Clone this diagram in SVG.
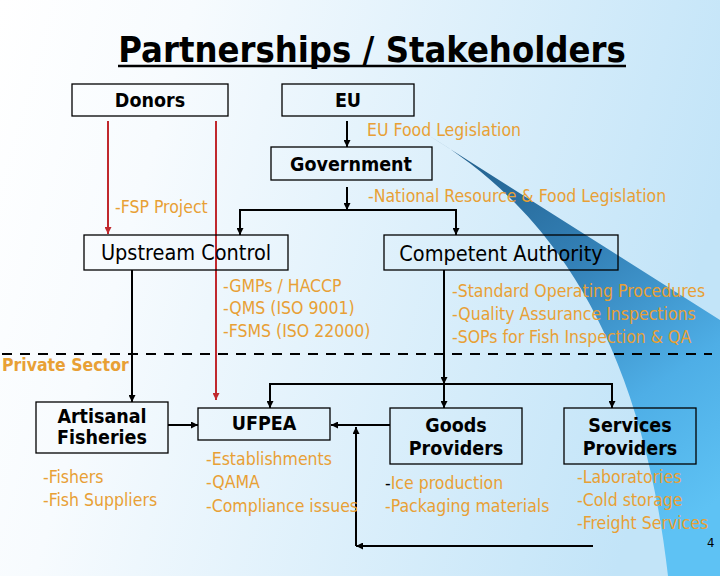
<svg xmlns="http://www.w3.org/2000/svg" width="720" height="576" viewBox="0 0 720 576">
<defs>
<linearGradient id="bg" x1="0" y1="0" x2="720" y2="200" gradientUnits="userSpaceOnUse">
<stop offset="0" stop-color="#ffffff"/>
<stop offset="0.25" stop-color="#f7fbfe"/>
<stop offset="1" stop-color="#c2e4f8"/>
</linearGradient>
<linearGradient id="wedge" x1="428" y1="135" x2="690" y2="520" gradientUnits="userSpaceOnUse">
<stop offset="0" stop-color="#1f5a85"/>
<stop offset="0.4" stop-color="#3380b6"/>
<stop offset="0.72" stop-color="#4eaee6"/>
<stop offset="1" stop-color="#5ec2f4"/>
</linearGradient>
<marker id="ab" markerWidth="7" markerHeight="7" refX="7" refY="3.5" orient="auto" markerUnits="userSpaceOnUse">
<path d="M0,0 L7,3.5 L0,7 z" fill="#000"/>
</marker>
<marker id="ar" markerWidth="7" markerHeight="7" refX="7" refY="3.5" orient="auto" markerUnits="userSpaceOnUse">
<path d="M0,0 L7,3.5 L0,7 z" fill="#c0282d"/>
</marker>
<style>
text{font-family:"DejaVu Sans Condensed","DejaVu Sans",sans-serif;font-stretch:condensed}
.box{fill:none;stroke:#000;stroke-width:1.3}
.lb{font-weight:bold;font-size:19.5px;fill:#000;text-anchor:middle}
.ln{font-size:21.5px;fill:#000;text-anchor:middle}
.or{font-size:17.5px;fill:#e8a035}
.k{fill:none;stroke:#000;stroke-width:2}
.r{fill:none;stroke:#c0282d;stroke-width:2}
</style>
</defs>
<rect x="0" y="0" width="720" height="576" fill="url(#bg)"/>
<path d="M428,135 L720,320 L720,576 L668,576 C640,330 545,205 428,135 Z" fill="url(#wedge)"/>
<text x="372" y="62" font-weight="bold" font-size="36" text-anchor="middle" fill="#000">Partnerships / Stakeholders</text>
<line x1="118" y1="66" x2="626" y2="66" stroke="#000" stroke-width="2.5"/>
<g id="connectors">
<path class="r" d="M108,121 V234" marker-end="url(#ar)"/>
<path class="r" d="M216,121 V400" marker-end="url(#ar)"/>
<path class="k" d="M347,121 V147" marker-end="url(#ab)"/>
<path class="k" d="M347,187 V210" marker-end="url(#ab)"/>
<path class="k" d="M347,210 H240 V235" marker-end="url(#ab)"/>
<path class="k" d="M347,210 H456 V235" marker-end="url(#ab)"/>
<path class="k" d="M132,270 V402" marker-end="url(#ab)"/>
<path class="k" d="M444,270 V384" marker-end="url(#ab)"/>
<path class="k" d="M444,384 V408" marker-end="url(#ab)"/>
<path class="k" d="M444,384 H270 V408" marker-end="url(#ab)"/>
<path class="k" d="M444,384 H612 V408" marker-end="url(#ab)"/>
<path class="k" d="M168,425 H198" marker-end="url(#ab)"/>
<path class="k" d="M390,425 H331" marker-end="url(#ab)"/>
<path class="k" stroke-width="2.5" d="M593,546 H356" marker-end="url(#ab)"/>
<path class="k" stroke-width="2.5" d="M356,546 V427" marker-end="url(#ab)"/>
<path d="M2,354 H712" stroke="#000" stroke-width="2" stroke-dasharray="10 8" fill="none"/>
</g>
<g id="donors"><rect class="box" x="72" y="84" width="156" height="32"/><text class="lb" x="150" y="107">Donors</text></g>
<g id="eu"><rect class="box" x="282" y="84" width="132" height="32"/><text class="lb" x="348" y="107">EU</text></g>
<text class="or" x="367" y="136">EU Food Legislation</text>
<g id="government"><rect class="box" x="271" y="147" width="161" height="33"/><text class="lb" x="351" y="171">Government</text></g>
<text class="or" x="115" y="212.5">-FSP Project</text>
<text class="or" x="368" y="201.5">-National Resource &amp; Food Legislation</text>
<g id="upstream"><rect class="box" x="84" y="235" width="204" height="35"/><text class="ln" x="186" y="260">Upstream Control</text></g>
<g id="authority"><rect class="box" x="384" y="235" width="234" height="35"/><text class="ln" x="501" y="261">Competent Authority</text></g>
<text class="or" x="223" y="291.5">-GMPs / HACCP</text>
<text class="or" x="223" y="314">-QMS (ISO 9001)</text>
<text class="or" x="223" y="337">-FSMS (ISO 22000)</text>
<text class="or" x="452" y="297">-Standard Operating Procedures</text>
<text class="or" x="452" y="320">-Quality Assurance Inspections</text>
<text class="or" x="452" y="343">-SOPs for Fish Inspection &amp; QA</text>
<text class="or" x="2" y="371" font-weight="bold">Private Sector</text>
<g id="artisanal"><rect class="box" x="36" y="402" width="132" height="51"/><text class="lb" x="102" y="423" font-size="17.5">Artisanal</text><text class="lb" x="102" y="444" font-size="17.5">Fisheries</text></g>
<g id="ufpea"><rect class="box" x="198" y="408" width="132" height="32"/><text class="lb" x="264" y="430">UFPEA</text></g>
<g id="goods"><rect class="box" x="390" y="408" width="132" height="56"/><text class="lb" x="456" y="432">Goods</text><text class="lb" x="456" y="455">Providers</text></g>
<g id="services"><rect class="box" x="564" y="408" width="132" height="56"/><text class="lb" x="630" y="432">Services</text><text class="lb" x="630" y="455">Providers</text></g>
<text class="or" x="43" y="483">-Fishers</text>
<text class="or" x="43" y="505.5">-Fish Suppliers</text>
<text class="or" x="206" y="465">-Establishments</text>
<text class="or" x="206" y="488">-QAMA</text>
<text class="or" x="206" y="511.5">-Compliance issues</text>
<text class="or" x="385" y="489"><tspan fill="#000">-</tspan>Ice production</text>
<text class="or" x="385" y="511.5">-Packaging materials</text>
<text class="or" x="577" y="483">-Laboratories</text>
<text class="or" x="577" y="506">-Cold storage</text>
<text class="or" x="577" y="529">-Freight Services</text>
<text x="707" y="547" font-size="13" fill="#000">4</text>
</svg>
